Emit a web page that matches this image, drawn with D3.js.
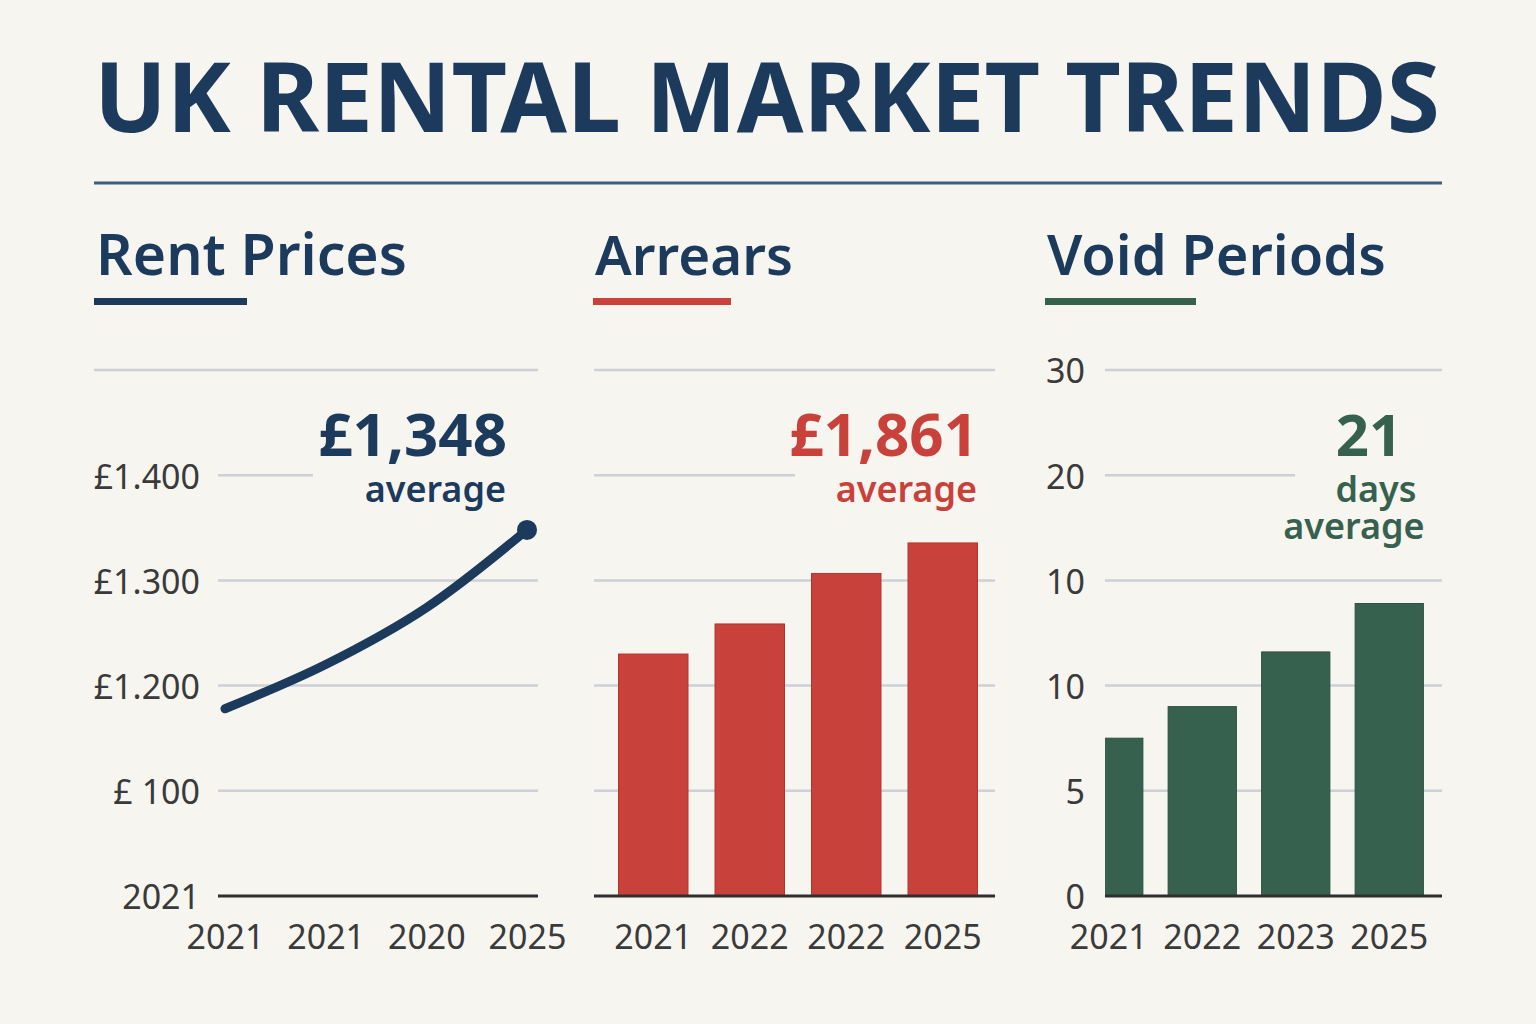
<!DOCTYPE html>
<html>
<head>
<meta charset="utf-8">
<script src="https://cdn.jsdelivr.net/npm/d3@7"></script>
<style>
  body { margin: 0; background: #f7f5f0; }
  svg { display: block; font-family: "Noto Sans", sans-serif; }
</style>
</head>
<body>
<svg width="1536" height="1024"></svg>
<script>
// values
var rentYears = ["2021", "2021", "2020", "2025"];
var rentValues = [1178, 1220, 1274, 1348];
var rentTicks = [1000, 1100, 1200, 1300, 1400, 1500];
var rentTickLabels = ["2021", "£ 100", "£1.200", "£1.300", "£1.400", ""];

var arrearsYears = ["2021", "2022", "2022", "2025"];
var arrearsValues = [1150, 1293, 1533, 1678];
var arrearsTicks = [0, 500, 1000, 1500, 2000, 2500];

var voidYears = ["2021", "2022", "2023", "2025"];
var voidValues = [7.5, 9.0, 11.6, 13.9];
var voidTicks = [0, 5, 10, 15, 20, 25];
var voidTickLabels = ["0", "5", "10", "10", "20", "30"];

var svg = d3.select("svg"),
    width = +svg.attr("width"),
    height = +svg.attr("height");

var navy = "#1b3a5c", red = "#c9413b", green = "#37614f",
    gridColor = "#cdd0d6", ink = "#3a3a3a";

var top_ = 370, base = 896;

svg.append("rect").attr("width", width).attr("height", height).attr("fill", "#f7f5f0");

// shrink/grow font so the text spans a given width
function fit(sel, w) {
  var cur = sel.node().getComputedTextLength();
  sel.attr("font-size", parseFloat(sel.attr("font-size")) * w / cur);
  return sel;
}

// title
fit(svg.append("text")
    .attr("x", 94).attr("y", 132)
    .attr("font-size", 96).attr("font-weight", 700)
    .attr("fill", navy)
    .text("UK RENTAL MARKET TRENDS"), 1346);

svg.append("line")
    .attr("x1", 94).attr("x2", 1442).attr("y1", 183).attr("y2", 183)
    .attr("stroke", "#3f5c7b").attr("stroke-width", 3);

// panel headings
var heads = [
  {text: "Rent Prices", x: 96, w: 311, ul: 153, color: navy},
  {text: "Arrears", x: 595, w: 198, ul: 138, color: red},
  {text: "Void Periods", x: 1047, w: 339, ul: 151, color: green}
];
heads.forEach(function(h) {
  fit(svg.append("text")
      .attr("x", h.x).attr("y", 275)
      .attr("font-size", 58).attr("font-weight", 600)
      .attr("fill", navy)
      .text(h.text), h.w);
  svg.append("rect")
      .attr("x", h.x - 2).attr("y", 298)
      .attr("width", h.ul).attr("height", 7)
      .attr("fill", h.color);
});

// gridlines, labels for one panel
function frame(y, ticks, opts) {
  var g = svg.append("g");
  g.selectAll(".grid")
    .data(ticks.slice(1))
    .enter()
    .append("line")
      .attr("x1", function(d, i) { return i === ticks.length - 2 && opts.topX0 ? opts.topX0 : opts.x0 })
      .attr("x2", function(d, i) { return i === ticks.length - 3 ? opts.breakX : opts.x1 })
      .attr("y1", function(d) { return y(d) })
      .attr("y2", function(d) { return y(d) })
      .attr("stroke", gridColor)
      .attr("stroke-width", 2.5);

  if (opts.labels) {
    var ax = g.append("g")
        .attr("transform", "translate(" + opts.labelX + ",0)")
        .call(d3.axisLeft(y).tickValues(ticks).tickSize(0).tickPadding(0)
          .tickFormat(function(d, i) { return opts.labels[i] }));
    ax.select(".domain").remove();
    ax.selectAll("text")
        .attr("dy", "0.38em")
        .attr("font-size", 34)
        .attr("font-family", "Noto Sans")
        .attr("fill", ink);
  }
  return g;
}

function baseline(x0, x1) {
  svg.append("line")
      .attr("x1", x0).attr("x2", x1).attr("y1", base).attr("y2", base)
      .attr("stroke", "#2e2e2e").attr("stroke-width", 3);
}

function xLabels(x, names) {
  var ax = svg.append("g")
      .attr("transform", "translate(0," + base + ")")
      .call(d3.axisBottom(x).tickSize(0).tickPadding(29)
        .tickFormat(function(d) { return names[d] }));
  ax.select(".domain").remove();
  ax.selectAll("text")
      .attr("font-size", 34)
      .attr("font-family", "Noto Sans")
      .attr("fill", ink);
}

function note(anchor, color, lines) {
  var t = svg.append("g").attr("text-anchor", anchor).attr("fill", color);
  lines.forEach(function(l) {
    t.append("text")
        .attr("x", l.x).attr("y", l.y)
        .attr("font-size", l.size).attr("font-weight", l.weight)
        .text(l.text);
  });
}

// ---- Rent prices (line)
var yRent = d3.scaleLinear().domain([1000, 1500]).range([base, top_]);
var xRent = d3.scalePoint().domain(d3.range(rentValues.length)).range([225, 527]);

frame(yRent, rentTicks, {x0: 218, x1: 538, topX0: 94, breakX: 313, labels: rentTickLabels, labelX: 200});
baseline(218, 538);
xLabels(xRent, rentYears);

svg.append("path")
    .datum(rentValues)
    .attr("fill", "none")
    .attr("stroke", navy)
    .attr("stroke-width", 9)
    .attr("stroke-linecap", "round")
    .attr("stroke-linejoin", "round")
    .attr("d", d3.line()
        .x(function(d, i) { return xRent(i) })
        .y(function(d) { return yRent(d) })
        .curve(d3.curveCatmullRom.alpha(0.5)));

svg.append("circle")
    .attr("cx", xRent(rentValues.length - 1))
    .attr("cy", yRent(rentValues[rentValues.length - 1]))
    .attr("r", 10)
    .attr("fill", navy);

note("end", navy, [
  {text: "£1,348", x: 507, y: 456, size: 60, weight: 700},
  {text: "average", x: 506, y: 502, size: 36, weight: 600}
]);

// ---- Arrears (bars)
var yArr = d3.scaleLinear().domain([0, 2500]).range([base, top_]);
var xArr = d3.scaleBand().domain(d3.range(arrearsValues.length))
    .range([605, 991]).paddingInner(0.28).paddingOuter(0.14);

frame(yArr, arrearsTicks, {x0: 594, x1: 995, breakX: 795});

svg.append("g")
  .selectAll("rect")
  .data(arrearsValues)
  .enter()
  .append("rect")
    .attr("x", function(d, i) { return xArr(i) })
    .attr("y", function(d) { return yArr(d) })
    .attr("width", xArr.bandwidth())
    .attr("height", function(d) { return base - yArr(d) })
    .attr("fill", red)
    .attr("stroke", "#b9322c")
    .attr("stroke-width", 1);

baseline(594, 995);
xLabels(xArr, arrearsYears);

note("end", red, [
  {text: "£1,861", x: 978, y: 456, size: 60, weight: 700},
  {text: "average", x: 977, y: 502, size: 36, weight: 600}
]);

// ---- Void periods (bars)
var yVoid = d3.scaleLinear().domain([0, 25]).range([base, top_]);
var xVoid = d3.scaleBand().domain(d3.range(voidValues.length))
    .range([1062, 1436]).paddingInner(0.27).paddingOuter(0.135);

frame(yVoid, voidTicks, {x0: 1105, x1: 1442, breakX: 1295, labels: voidTickLabels, labelX: 1085});

svg.append("clipPath").attr("id", "voidClip")
  .append("rect").attr("x", 1105).attr("y", 0).attr("width", 340).attr("height", height);

svg.append("g")
    .attr("clip-path", "url(#voidClip)")
  .selectAll("rect")
  .data(voidValues)
  .enter()
  .append("rect")
    .attr("x", function(d, i) { return xVoid(i) })
    .attr("y", function(d) { return yVoid(d) })
    .attr("width", xVoid.bandwidth())
    .attr("height", function(d) { return base - yVoid(d) })
    .attr("fill", green)
    .attr("stroke", "#2a4f40")
    .attr("stroke-width", 1);

baseline(1105, 1442);
xLabels(xVoid, voidYears);

note("middle", green, [
  {text: "21", x: 1369, y: 456, size: 58, weight: 700},
  {text: "days", x: 1376, y: 502, size: 36, weight: 600},
  {text: "average", x: 1354, y: 539, size: 36, weight: 600}
]);
</script>
</body>
</html>
